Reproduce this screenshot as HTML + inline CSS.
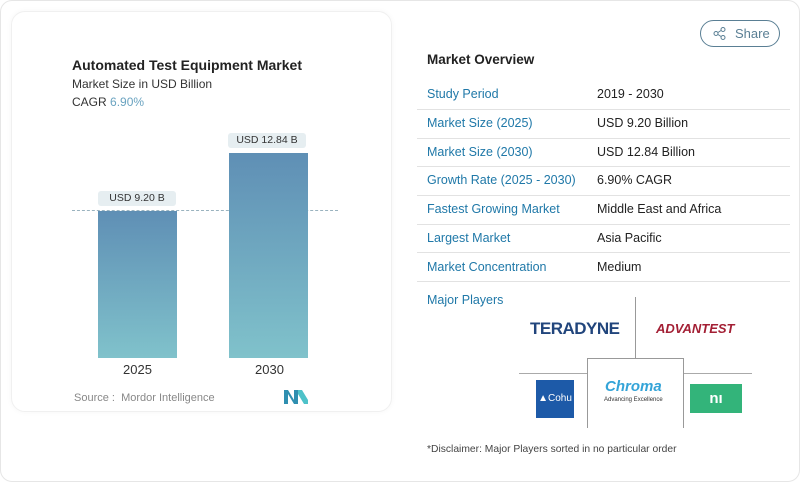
<!DOCTYPE html>
<html><head><meta charset="utf-8"><style>
*{margin:0;padding:0;box-sizing:border-box}
body{width:800px;height:482px;background:#fff;font-family:"Liberation Sans",sans-serif;position:relative;overflow:hidden;color:#222}
.a{position:absolute;white-space:nowrap}
.outer{position:absolute;left:0;top:0;width:800px;height:482px;border:1px solid #e6e6e6;border-radius:12px}
.card{position:absolute;left:11px;top:11px;width:381px;height:401px;border:1px solid #f0f0f0;border-radius:14px;box-shadow:0 0 6px rgba(0,0,0,0.04)}
.bar{position:absolute;background:linear-gradient(#5f8fb5,#80c2cb)}
.lbl{position:absolute;background:#e6eef1;border-radius:3px;font-size:10.5px;text-align:center;line-height:15px;color:#333}
.k{left:427px;font-size:12.5px;color:#1f78a8}
.v{left:597px;font-size:12.5px;color:#222}
.sep{position:absolute;left:417px;width:373px;height:1px;background:#e2e2e2}
</style></head><body>
<div class="outer"></div>
<div class="card"></div>
<div class="a" style="left:72px;top:57px;font-size:14px;font-weight:bold;color:#222">Automated Test Equipment Market</div>
<div class="a" style="left:72px;top:77px;font-size:12px;color:#333">Market Size in USD Billion</div>
<div class="a" style="left:72px;top:95px;font-size:12px;color:#333">CAGR <span style="color:#6aa3c0">6.90%</span></div>
<div class="a" style="left:72px;top:210px;width:266px;border-top:1px dashed #9ab3bf"></div>
<div class="bar" style="left:98px;top:211px;width:79px;height:147px"></div>
<div class="bar" style="left:229px;top:153px;width:79px;height:205px"></div>
<div class="lbl" style="left:98px;top:191px;width:78px">USD 9.20 B</div>
<div class="lbl" style="left:228px;top:133px;width:78px">USD 12.84 B</div>
<div class="a" style="left:123px;top:362px;font-size:13px;color:#333">2025</div>
<div class="a" style="left:255px;top:362px;font-size:13px;color:#333">2030</div>
<div class="a" style="left:74px;top:392px;font-size:11px;color:#888">Source :&nbsp; Mordor Intelligence</div>
<svg class="a" style="left:284px;top:390px" width="24" height="14"><path d="M0 14V0h4l6 10V0h4v14h-4L4 4v10z" fill="#2f8fb0"/><path d="M14 14V0h4l6 10V0v14h-4l-6-10" fill="#4ec2c9"/></svg>
<div class="a" style="left:700px;top:20px;width:80px;height:27px;border:1px solid #5a7f94;border-radius:14px;font-size:13px;color:#5a7f94;line-height:25px;padding-left:34px">Share</div>
<svg class="a" style="left:713px;top:27px" width="13" height="13"><circle cx="10" cy="2.5" r="2" fill="none" stroke="#5a7f94"/><circle cx="10" cy="10.5" r="2" fill="none" stroke="#5a7f94"/><circle cx="3" cy="6.5" r="2" fill="none" stroke="#5a7f94"/><path d="M5 5.5L8 3.5M5 7.5L8 9.5" stroke="#5a7f94"/></svg>
<div class="a" style="left:427px;top:52px;font-size:13.5px;font-weight:bold;color:#222">Market Overview</div>
<div class="a k" style="top:87px">Study Period</div><div class="a v" style="top:87px">2019 - 2030</div>
<div class="sep" style="top:109px"></div>
<div class="a k" style="top:116px">Market Size (2025)</div><div class="a v" style="top:116px">USD 9.20 Billion</div>
<div class="sep" style="top:138px"></div>
<div class="a k" style="top:145px">Market Size (2030)</div><div class="a v" style="top:145px">USD 12.84 Billion</div>
<div class="sep" style="top:166px"></div>
<div class="a k" style="top:173px">Growth Rate (2025 - 2030)</div><div class="a v" style="top:173px">6.90% CAGR</div>
<div class="sep" style="top:195px"></div>
<div class="a k" style="top:202px">Fastest Growing Market</div><div class="a v" style="top:202px">Middle East and Africa</div>
<div class="sep" style="top:224px"></div>
<div class="a k" style="top:231px">Largest Market</div><div class="a v" style="top:231px">Asia Pacific</div>
<div class="sep" style="top:252px"></div>
<div class="a k" style="top:260px">Market Concentration</div><div class="a v" style="top:260px">Medium</div>
<div class="sep" style="top:281px"></div>
<div class="a" style="left:427px;top:293px;font-size:12.5px;color:#1f78a8">Major Players</div>
<div class="a" style="left:635px;top:297px;width:1px;height:61px;background:#999"></div>
<div class="a" style="left:519px;top:373px;width:68px;height:1px;background:#aaa"></div>
<div class="a" style="left:683px;top:373px;width:69px;height:1px;background:#aaa"></div>
<div class="a" style="left:587px;top:358px;width:97px;height:70px;border:1px solid #999;border-bottom:none"></div>
<div class="a" style="left:530px;top:319px;font-size:17px;font-weight:bold;color:#21457c;letter-spacing:-0.5px">TERADYNE</div>
<div class="a" style="left:656px;top:321px;font-size:13px;font-weight:bold;font-style:italic;color:#a31f34">ADVANTEST</div>
<div class="a" style="left:536px;top:380px;width:38px;height:38px;background:#1d5aa8;color:#fff;font-size:10px;line-height:38px;text-align:center">▲Cohu</div>
<div class="a" style="left:605px;top:378px;font-size:15px;font-weight:bold;font-style:italic;color:#34a4d8">Chroma</div>
<div class="a" style="left:604px;top:397px;font-size:6px;color:#333">Advancing Excellence</div>
<div class="a" style="left:690px;top:384px;width:52px;height:29px;background:#33b47a;color:#fff;font-size:15px;font-weight:bold;line-height:29px;text-align:center">nı</div>
<div class="a" style="left:427px;top:444px;font-size:10.3px;color:#444">*Disclaimer: Major Players sorted in no particular order</div>
</body></html>
